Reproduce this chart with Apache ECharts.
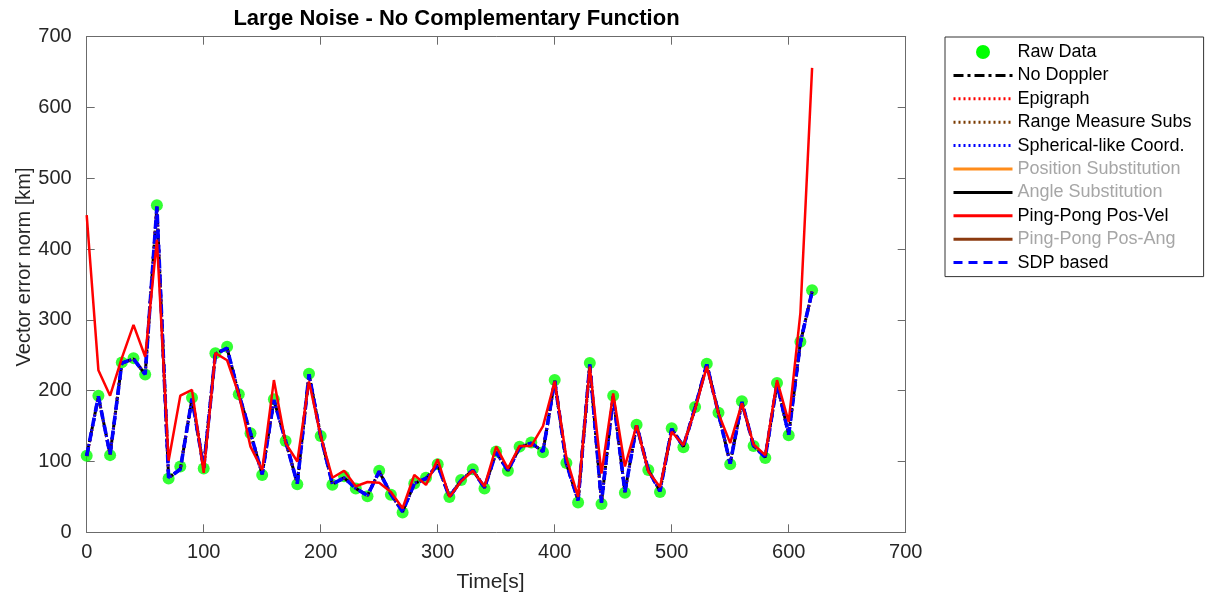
<!DOCTYPE html>
<html>
<head>
<meta charset="utf-8">
<script src="https://cdn.jsdelivr.net/npm/echarts@6/dist/echarts.min.js"></script>
<style>
  html, body { margin: 0; padding: 0; background: #fff; }
  #chart { width: 1215px; height: 597px; }
</style>
</head>
<body>
<div id="chart"></div>
<script>
// time stamps [s]
const times = [0, 10, 20, 30, 40, 50, 60, 70, 80, 90, 100, 110, 120, 130, 140, 150, 160, 170, 180, 190,
  200, 210, 220, 230, 240, 250, 260, 270, 280, 290, 300, 310, 320, 330, 340, 350, 360, 370, 380, 390,
  400, 410, 420, 430, 440, 450, 460, 470, 480, 490, 500, 510, 520, 530, 540, 550, 560, 570, 580, 590,
  600, 610, 620]

// raw measurements (green dots)
const rawData = [108, 193, 109, 240, 246, 223, 462, 76, 93, 190, 90, 253, 262, 195, 140, 81, 188, 129, 68, 224,
  136, 67, 79, 62, 51, 87, 53, 28, 69, 77, 96, 50, 74, 89, 62, 114, 87, 121, 127, 113,
  215, 98, 42, 239, 40, 193, 56, 152, 88, 57, 147, 120, 177, 238, 169, 96, 185, 122, 105, 211,
  137, 269, 342]

// estimators that sit on top of the raw data (No Doppler, Epigraph, Range, Spherical, SDP)
const fitData = [108, 192, 110, 239, 245, 223, 460, 77, 89, 189, 91, 252, 260, 195, 140, 82, 187, 129, 69, 223,
  136, 68, 77, 62, 52, 86, 54, 29, 69, 76, 95, 50, 73, 88, 63, 113, 87, 120, 126, 114,
  214, 97, 45, 237, 42, 192, 57, 151, 88, 58, 146, 121, 176, 237, 168, 97, 184, 122, 106, 210,
  138, 268, 340]

// Ping-Pong Pos-Vel
const pingPongPosVel = [448, 229, 193, 246, 293, 248, 413, 101, 193, 201, 84, 253, 243, 195, 121, 88, 215, 126, 100, 213,
  136, 77, 87, 65, 71, 70, 57, 34, 81, 67, 103, 50, 72, 87, 65, 121, 90, 122, 122, 150,
  213, 105, 50, 234, 83, 196, 93, 151, 86, 64, 142, 123, 174, 234, 168, 126, 182, 124, 109, 215,
  156, 310, 656]

const axisTicks = { min: 0, max: 700, interval: 100 }

function pairs(vals) {
  return times.map((t, i) => [t, vals[i]])
}

let chart = echarts.init(document.getElementById('chart'))

const frameColor = '#6b6b6b'
const textColor = '#262626'
const greyText = '#a6a6a6'

function lineSeries(name, vals, color, width, type, z) {
  return {
    name: name,
    type: 'line',
    data: vals ? pairs(vals) : [],
    symbol: 'none',
    color: color,
    itemStyle: { color: color },
    lineStyle: { color: color, width: width, type: type },
    z: z,
    silent: true,
  }
}

// frame axis: same scale, ticks pointing inwards, optional labels
function frameAxis(position, showLabel, margin) {
  return {
    type: 'value',
    position: position,
    min: axisTicks.min,
    max: axisTicks.max,
    interval: axisTicks.interval,
    splitLine: { show: false },
    axisLine: { show: true, onZero: false, lineStyle: { color: frameColor, width: 1 } },
    axisTick: { show: true, inside: true, length: 8, lineStyle: { color: frameColor } },
    axisLabel: { show: showLabel, color: textColor, fontSize: 20, margin: margin, fontFamily: 'Liberation Sans' },
  }
}

chart.setOption({
  animation: false,
  grid: {
    left: 86.7,
    right: 309.3,
    top: 36.7,
    bottom: 64.7,
  },
  xAxis: [frameAxis('bottom', true, 10), frameAxis('top', false, 0)],
  yAxis: [frameAxis('left', true, 15), frameAxis('right', false, 0)],
  legend: {
    orient: 'vertical',
    left: 945,
    top: 37,
    padding: [6, 12, 5, 7],
    itemWidth: 59,
    itemHeight: 14,
    itemGap: 5.4,
    borderColor: '#333',
    borderWidth: 1,
    backgroundColor: '#fff',
    selectedMode: false,
    itemStyle: { opacity: 0 },
    lineStyle: { width: 3 },
    textStyle: { fontSize: 18, lineHeight: 18, color: '#000', fontFamily: 'Liberation Sans' },
    data: [
      { name: 'Raw Data', icon: 'circle', itemStyle: { opacity: 1, color: '#00ff00' } },
      'No Doppler',
      'Epigraph',
      'Range Measure Subs',
      'Spherical-like Coord.',
      { name: 'Position Substitution', textStyle: { color: greyText } },
      { name: 'Angle Substitution', textStyle: { color: greyText } },
      'Ping-Pong Pos-Vel',
      { name: 'Ping-Pong Pos-Ang', textStyle: { color: greyText } },
      'SDP based',
    ],
  },
  graphic: [
    {
      type: 'text',
      x: 456.5,
      y: 19,
      style: {
        text: 'Large Noise - No Complementary Function',
        fontSize: 22,
        fontWeight: 'bold',
        fontFamily: 'Liberation Sans',
        fill: '#000',
        align: 'center',
        verticalAlign: 'middle',
      },
    },
    {
      type: 'text',
      x: 490.5,
      y: 582,
      style: {
        text: 'Time[s]',
        fontSize: 21,
        fontFamily: 'Liberation Sans',
        fill: textColor,
        align: 'center',
        verticalAlign: 'middle',
      },
    },
    {
      type: 'text',
      x: 24.5,
      y: 267,
      rotation: Math.PI / 2,
      style: {
        text: 'Vector error norm [km]',
        fontSize: 20,
        fontFamily: 'Liberation Sans',
        fill: textColor,
        align: 'center',
        verticalAlign: 'middle',
      },
    },
  ],
  series: [
    {
      name: 'Raw Data',
      type: 'scatter',
      data: pairs(rawData),
      symbol: 'circle',
      symbolSize: 12,
      itemStyle: { color: '#00ff00' },
      z: 1,
      silent: true,
    },
    lineSeries('No Doppler', fitData, '#000000', 3, [10, 4, 3, 4], 2),
    lineSeries('Epigraph', fitData, '#ff0000', 3, [2, 3], 3),
    lineSeries('Range Measure Subs', fitData, '#7a3a00', 3, [2, 3], 4),
    lineSeries('Spherical-like Coord.', fitData, '#0000ff', 3, [2, 3], 5),
    lineSeries('Position Substitution', null, '#ff8c1a', 3, 'solid', 6),
    lineSeries('Angle Substitution', null, '#000000', 3, 'solid', 6),
    lineSeries('Ping-Pong Pos-Ang', null, '#8b3a0f', 3, 'solid', 6),
    lineSeries('SDP based', fitData, '#0000ff', 3.6, [9, 6], 7),
    lineSeries('Ping-Pong Pos-Vel', pingPongPosVel, '#ff0000', 2.5, 'solid', 8),
  ],
})
</script>
</body>
</html>
